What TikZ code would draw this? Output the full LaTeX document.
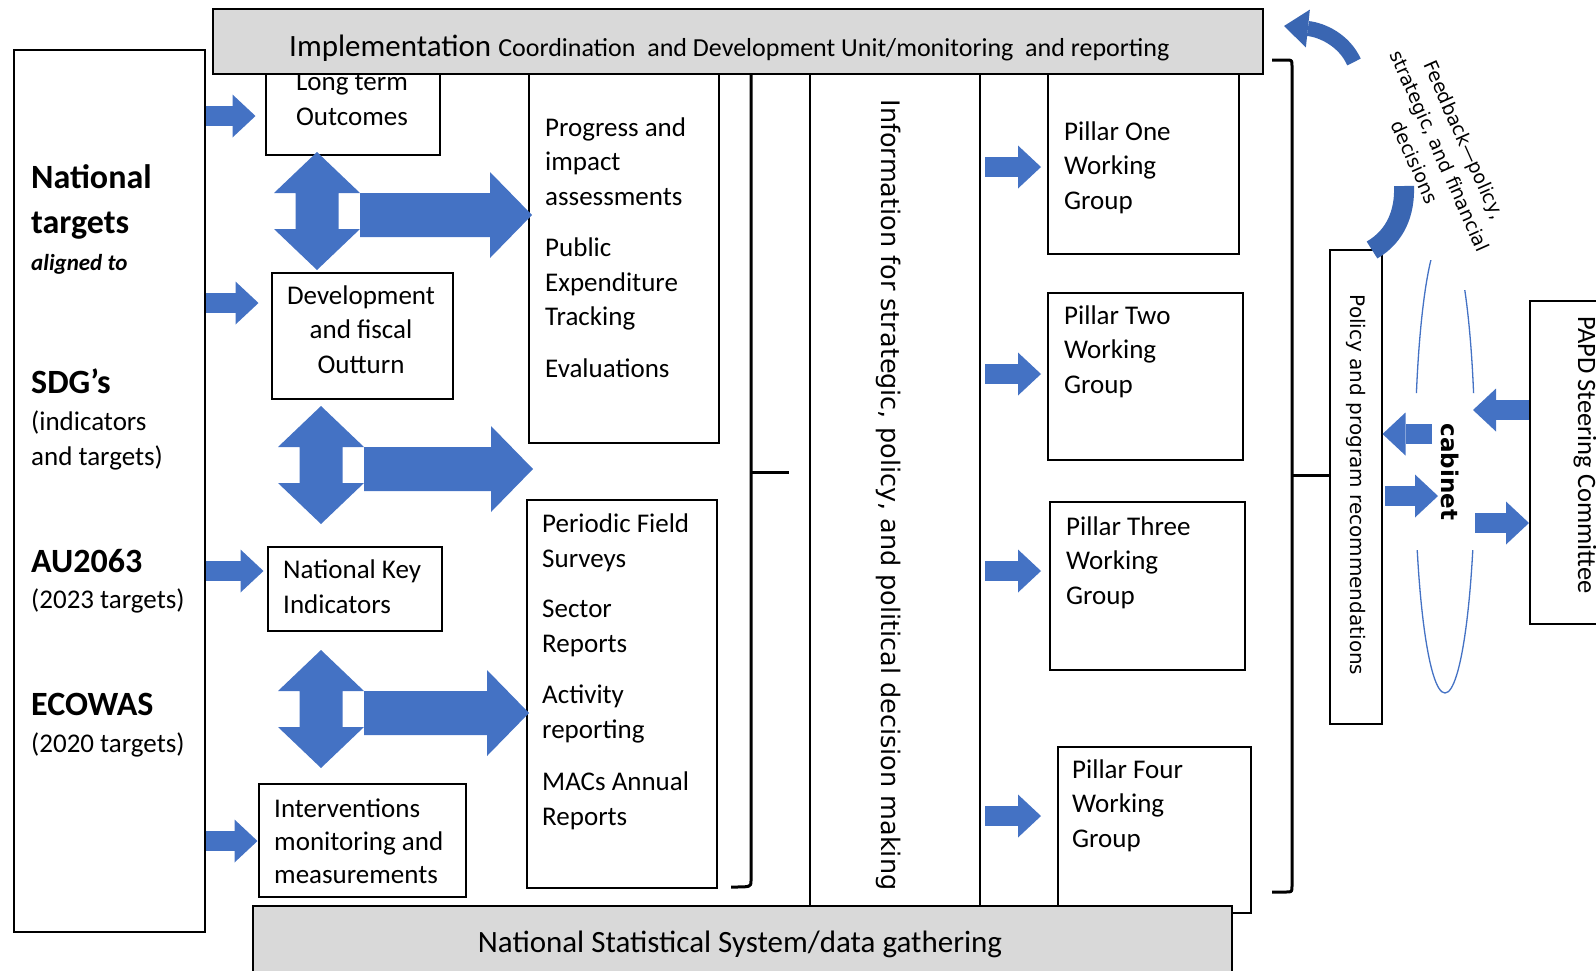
\documentclass[tikz,border=0pt]{standalone}
\usepackage{fontspec}
\setmainfont{Carlito}
\newfontfamily\vfont{DejaVu Sans}
\usetikzlibrary{arrows.meta}
\definecolor{officeblue}{HTML}{4472C4}
\definecolor{darkblue}{HTML}{3A66B2}
\definecolor{bargray}{HTML}{D9D9D9}

\begin{document}
\begin{tikzpicture}[x=1pt,y=-1pt,
  box/.style={draw, line width=1.5pt, inner sep=0pt, anchor=north west},
  bar/.style={box, fill=bargray},
  txt/.style={font=\fontsize{27}{34.5}\selectfont, inner sep=0pt, align=left, anchor=base west},
  big/.style={font=\fontsize{34}{40}\selectfont\bfseries, inner sep=0pt, anchor=base west},
  vtxt/.style={inner sep=0pt, rotate=-90},
  barrow/.style={officeblue, line width=20pt, -{Triangle[length=23pt,width=43pt,line width=0pt]}},
  bracket/.style={line width=3pt, line join=round}]
\useasboundingbox (0,0) rectangle (1596,970);

\node[box, minimum width=191pt, minimum height=882pt] (tgt) at (13,49) {};
\node[box, minimum width=174pt, minimum height=114pt] (lto) at (265,40) {};
\node[box, minimum width=181pt, minimum height=126pt] (dfo) at (271,272) {};
\node[box, minimum width=174pt, minimum height=84pt] (nki) at (267,546) {};
\node[box, minimum width=207pt, minimum height=113pt] (imm) at (258,783) {};
\node[box, minimum width=190pt, minimum height=402pt] (pia) at (528,40) {};
\node[box, minimum width=190pt, minimum height=388pt] (pfs) at (526,499) {};
\node[box, minimum width=191pt, minimum height=213pt] (p1) at (1047,40) {};
\node[box, minimum width=195pt, minimum height=167pt] (p2) at (1047,292) {};
\node[box, minimum width=195pt, minimum height=168pt] (p3) at (1049,501) {};
\node[box, minimum width=193pt, minimum height=166pt] (p4) at (1057,746) {};
\node[box, minimum width=52pt, minimum height=474pt] (pol) at (1329,249) {};
\node[box, minimum width=100pt, minimum height=323pt] (papd) at (1529,300) {};

\draw[line width=1.5pt] (810,72) -- (810,905) (980,72) -- (980,905);
\draw[bracket] (751,72) -- (751,881) .. controls (751,887) .. (731,887);
\draw[bracket] (751,472) -- (789,472);
\draw[bracket] (1272,60) -- (1286,60) .. controls (1292,60) .. (1292,66) -- (1292,886)
  .. controls (1292,892) .. (1286,892) -- (1272,892);
\draw[bracket] (1292,475) -- (pol.west |- 0,475);

\node[txt, align=center, anchor=base] (ltot) at (352,125) {Long term\\Outcomes};
\node[txt, align=left] (piat) at (545,377) {Progress and\\impact\\assessments\\[17pt]Public\\Expenditure\\Tracking\\[17pt]Evaluations};
\node[txt] (p1t) at (1064,209) {Pillar One\\Working\\Group};

\node[bar, minimum width=1050pt, minimum height=65pt] (top) at (212,8) {};
\node[bar, minimum width=979pt, minimum height=80pt] (bot) at (252,905) {};
\node[inner sep=0pt, anchor=base west] (toptxt) at (289,56)
  {\fontsize{31}{31}\selectfont Implementation \fontsize{26}{26}\selectfont Coordination\ \ and Development Unit/monitoring\ \ and reporting};
\node[inner sep=0pt, anchor=base, font=\fontsize{31}{31}\selectfont] (bottxt) at (740,952) {National Statistical System/data gathering};

\node[big] (nat) at (31,188) {National};
\node[big] (nat2) at (31,233) {targets};
\node[inner sep=0pt, anchor=base west, font=\fontsize{23}{23}\selectfont\bfseries\itshape] (alg) at (31,270) {aligned to};
\node[big] (sdg) at (31,393) {SDG’s};
\node[txt] (sdgt) at (31,465) {(indicators\\and targets)};
\node[big] (au) at (31,572) {AU2063};
\node[txt] (aut) at (31,608) {(2023 targets)};
\node[big] (eco) at (31,715) {ECOWAS};
\node[txt] (ecot) at (31,752) {(2020 targets)};

\node[txt, align=center, anchor=base] (dfot) at (361,373) {Development\\and fiscal\\Outturn};
\node[txt] (nkit) at (283,613) {National Key\\Indicators};
\node[txt, font=\fontsize{27}{33}\selectfont] (immt) at (274,883) {Interventions\\monitoring and\\measurements};
\node[txt] (pfst) at (542,825) {Periodic Field\\Surveys\\[16pt]Sector\\Reports\\[17pt]Activity\\reporting\\[18pt]MACs Annual\\Reports};
\node[txt] (p2t) at (1064,393) {Pillar Two\\Working\\Group};
\node[txt] (p3t) at (1066,604) {Pillar Three\\Working\\Group};
\node[txt] (p4t) at (1072,847) {Pillar Four\\Working\\Group};

\node[vtxt, font=\vfont\fontsize{25.5}{25.5}\selectfont] (info) at (889,495) {Information for strategic, policy, and political decision making};
\node[vtxt, font=\vfont\fontsize{20}{20}\selectfont] (polt) at (1356,485) {Policy and program recommendations};
\node[vtxt, font=\vfont\fontsize{23}{23}\selectfont\bfseries] (cab) at (1450,472) {cabinet};
\node[vtxt, font=\fontsize{26.5}{26.5}\selectfont] (papdt) at (1585,455) {PAPD Steering Committee};
\node[inner sep=0pt, rotate=-66, align=center, font=\vfont\fontsize{19}{27}\selectfont] (fb) at (1440,151)
  {Feedback—policy,\\strategic, and financial\\decisions};

\begin{scope}
\clip (1400,260) rectangle (1445,393) (1445,290) rectangle (1490,393) (1400,550) rectangle (1490,700);
\draw[officeblue, line width=1.3pt] (1445,463) ellipse [x radius=30, y radius=230];
\end{scope}

\draw[barrow] (tgt.east |- 0,116) -- ++(50,0);
\draw[barrow] (tgt.east |- 0,303) -- ++(53,0);
\draw[barrow] (tgt.east |- 0,571) -- ++(58,0);
\draw[barrow] (tgt.east |- 0,841) -- ++(52,0);
\foreach \y in {167,374,571,816}
  \draw[barrow] (985,\y) -- (1041,\y);
\draw[barrow] (papd.west |- 0,410) -- (1473,410);
\draw[barrow] (1432,434) -- (pol.east |- 0,434);
\draw[barrow] (1385,496) -- (1438,496);
\draw[barrow] (1475,523) -- (papd.west |- 0,523);

\foreach \cx/\cy/\sl in {317/211/130, 321/465/127, 321/709/123}{
  \fill[officeblue] (\cx,\cy) ++(0,-59) -- ++(43,41) -- ++(-21.5,0) -- ++(0,36) -- ++(21.5,0)
    -- ++(-43,41) -- ++(-43,-41) -- ++(21.5,0) -- ++(0,-36) -- ++(-21.5,0) -- cycle;
  \fill[officeblue] (\cx,\cy) ++(43,-18) -- ++(\sl,0) -- ++(0,-21) -- ++(42,43) -- ++(-42,43)
    -- ++(0,-21) -- ++(-\sl,0) -- cycle;
}

\draw[darkblue, line width=15pt, -{Triangle[length=24pt,width=38pt,line width=0pt]}]
  (1354,62) .. controls (1344,40) and (1322,30) .. (1284,26);
\draw[darkblue, line width=20pt] (1404,186) .. controls (1405,212) and (1396,236) .. (1372,250);
\end{tikzpicture}
\end{document}
